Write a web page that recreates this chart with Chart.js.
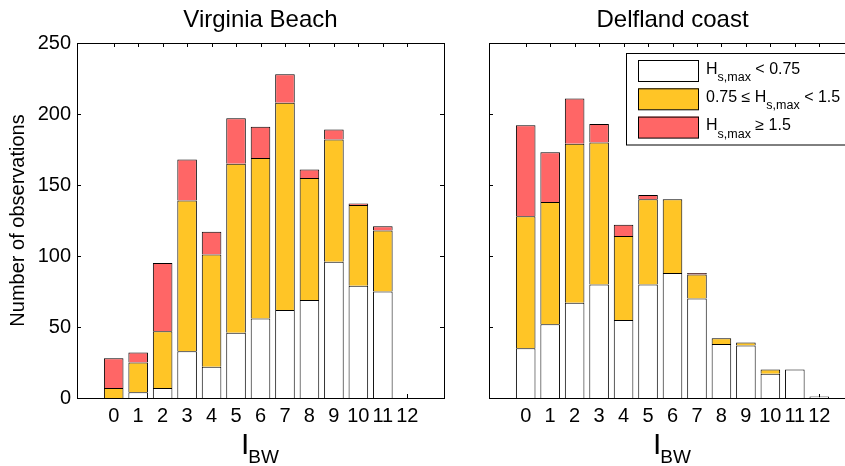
<!DOCTYPE html>
<html>
<head>
<meta charset="utf-8">
<script src="https://cdn.jsdelivr.net/npm/chart.js@4.4.1/dist/chart.umd.min.js"></script>
<style>
  html, body { margin: 0; padding: 0; background: #fff; overflow: hidden; width: 845px; height: 466px; }
  #left  { position: absolute; left: 0;     top: 0; }
  #right { position: absolute; left: 470px; top: 0; }
</style>
</head>
<body>
<canvas id="left" width="460" height="466"></canvas>
<canvas id="right" width="400" height="466"></canvas>
<script>
// Breakwater index classes (x axis) and tick labels
const indexBW = [0, 1, 2, 3, 4, 5, 6, 7, 8, 9, 10, 11, 12];
const xTickLabels = ['0', '1', '2', '3', '4', '5', '6', '7', '8', '9', '10', '11', '12'];
const yTickValues = [0, 50, 100, 150, 200, 250];

// Virginia Beach: number of observations per wave-height class
const vbLow  = [0, 4, 7, 33, 22, 46, 56, 62, 69, 96, 79, 75, 0];
const vbMid  = [7, 21, 40, 106, 79, 119, 113, 146, 86, 86, 57, 43, 0];
const vbHigh = [21, 7, 48, 29, 16, 32, 22, 20, 6, 7, 1, 3, 0];

// Delfland coast: number of observations per wave-height class
const dcLow  = [35, 52, 67, 80, 55, 80, 88, 70, 38, 37, 17, 20, 1];
const dcMid  = [93, 86, 112, 100, 59, 60, 52, 17, 4, 2, 3, 0, 0];
const dcHigh = [64, 35, 32, 13, 8, 3, 0, 1, 0, 0, 0, 0, 0];

const FONT = '"Liberation Sans", Arial, Helvetica, sans-serif';
const WHITE = '#ffffff';
const YELLOW = '#ffc526';
const RED = '#ff6666';
const EDGE = '#000000';

Chart.defaults.color = '#000';
Chart.defaults.font.family = FONT;

function points(values) {
  return values.map((v, i) => ({ x: indexBW[i], y: v }));
}

function datasets(low, mid, high) {
  // the base edge of each segment is skipped so stacked boundaries stay one pixel wide
  const common = {
    borderColor: EDGE, borderWidth: 1, borderSkipped: 'start',
    barPercentage: 1.0, categoryPercentage: 0.8
  };
  return [
    Object.assign({ label: 'low',  data: points(low),  backgroundColor: WHITE }, common),
    Object.assign({ label: 'mid',  data: points(mid),  backgroundColor: YELLOW }, common),
    Object.assign({ label: 'high', data: points(high), backgroundColor: RED }, common)
  ];
}

// Box around the axes with inward tick marks (MATLAB style)
const framePlugin = {
  id: 'frame',
  beforeDatasetsDraw(chart) {
    const { ctx, chartArea: a, scales: { x, y } } = chart;
    const len = 4;
    ctx.save();
    ctx.strokeStyle = '#000';
    ctx.lineWidth = 1;
    ctx.beginPath();
    yTickValues.forEach(v => {
      const py = Math.round(y.getPixelForValue(v)) + 0.5;
      ctx.moveTo(a.left, py); ctx.lineTo(a.left + len, py);
      ctx.moveTo(a.right, py); ctx.lineTo(a.right - len, py);
    });
    indexBW.forEach(v => {
      const px = Math.round(x.getPixelForValue(v)) + 0.5;
      ctx.moveTo(px, a.top); ctx.lineTo(px, a.top + len);
      ctx.moveTo(px, a.bottom); ctx.lineTo(px, a.bottom - len);
    });
    ctx.stroke();
    ctx.restore();
  },
  afterDatasetsDraw(chart) {
    const { ctx, chartArea: a } = chart;
    ctx.save();
    ctx.strokeStyle = '#000';
    ctx.lineWidth = 1;
    const l = Math.round(a.left) + 0.5, t = Math.round(a.top) + 0.5;
    const r = Math.round(a.right) + 0.5, b = Math.round(a.bottom) + 0.5;
    ctx.strokeRect(l, t, r - l, b - t);
    ctx.restore();
  }
};

// x axis title "I" with subscript "BW"
const xTitlePlugin = {
  id: 'xTitle',
  afterDraw(chart) {
    const { ctx, chartArea: a } = chart;
    ctx.save();
    ctx.fillStyle = '#000';
    ctx.textBaseline = 'alphabetic';
    ctx.textAlign = 'left';
    const bigFont = '30px ' + FONT, subFont = '19px ' + FONT;
    ctx.font = bigFont;
    const wI = ctx.measureText('I').width;
    ctx.font = subFont;
    const wS = ctx.measureText('BW').width;
    const x0 = (a.left + a.right) / 2 - (wI + wS) / 2;
    ctx.font = bigFont;
    ctx.fillText('I', x0, 454);
    ctx.font = subFont;
    ctx.fillText('BW', x0 + wI - 1, 463);
    ctx.restore();
  }
};

// Legend of wave-height classes, drawn in the right panel
const legendRows = [
  { color: WHITE,  pre: '',       sub: 's,max', post: ' < 0.75' },
  { color: YELLOW, pre: '0.75 \u2264 ', sub: 's,max', post: ' < 1.5' },
  { color: RED,    pre: '',       sub: 's,max', post: ' \u2265 1.5' }
];
const legendPlugin = {
  id: 'hsLegend',
  afterDraw(chart) {
    const { ctx } = chart;
    const off = 470; // canvas offset on the page
    ctx.save();
    ctx.fillStyle = '#fff';
    ctx.strokeStyle = '#000';
    ctx.lineWidth = 1;
    ctx.fillRect(626 - off, 53.5, 230, 91.5);
    ctx.strokeRect(626.5 - off, 53.5, 230, 91.5);
    const mainFont = '16px ' + FONT, subFont = '12.5px ' + FONT;
    legendRows.forEach((row, i) => {
      const top = 60 + i * 28.3;
      ctx.fillStyle = row.color;
      ctx.fillRect(638 - off, top, 61, 21.5);
      ctx.strokeStyle = EDGE;
      ctx.strokeRect(638.5 - off, top + 0.5, 60, 21);
      const base = top + 13.5;
      let x = 706 - off;
      ctx.fillStyle = '#000';
      ctx.textBaseline = 'alphabetic';
      ctx.font = mainFont;
      ctx.fillText(row.pre + 'H', x, base);
      x += ctx.measureText(row.pre + 'H').width;
      ctx.font = subFont;
      ctx.fillText(row.sub, x, base + 7.5);
      x += ctx.measureText(row.sub).width;
      ctx.font = mainFont;
      ctx.fillText(row.post, x, base);
    });
    ctx.restore();
  }
};

function makeOptions(titleText, showY, yWidth, padRight) {
  return {
    responsive: false,
    animation: false,
    layout: { padding: { left: 0, right: padRight, top: 0, bottom: 0 } },
    plugins: {
      legend: { display: false },
      tooltip: { enabled: false },
      title: {
        display: true, text: titleText, fullSize: false,
        font: { size: 24, weight: 'normal', family: FONT },
        color: '#000', padding: { top: 6, bottom: 8.2 }
      }
    },
    scales: {
      x: {
        type: 'linear', stacked: true, min: -1, max: 13,
        grid: { display: false, drawTicks: false, tickLength: 0 },
        border: { display: false },
        ticks: {
          stepSize: 1, autoSkip: false, maxRotation: 0, minRotation: 0,
          padding: 6, font: { size: 20, family: FONT }, color: '#000',
          callback: v => (v >= 0 && v < xTickLabels.length) ? xTickLabels[v] : ''
        },
        afterFit: s => { s.height = 68; }
      },
      y: {
        stacked: true, min: 0, max: 250,
        grid: { display: false, drawTicks: false, tickLength: 0 },
        border: { display: false },
        ticks: {
          display: showY, stepSize: 50, padding: 6,
          font: { size: 20, family: FONT }, color: '#000'
        },
        title: {
          display: showY, text: 'Number of observations',
          font: { size: 20, family: FONT }, color: '#000',
          padding: { top: 6, bottom: 0 }
        },
        afterFit: s => { s.width = yWidth; }
      }
    }
  };
}

new Chart(document.getElementById('left'), {
  type: 'bar',
  data: { datasets: datasets(vbLow, vbMid, vbHigh) },
  options: makeOptions('Virginia Beach', true, 77, 16),
  plugins: [framePlugin, xTitlePlugin]
});

new Chart(document.getElementById('right'), {
  type: 'bar',
  data: { datasets: datasets(dcLow, dcMid, dcHigh) },
  options: makeOptions('Delfland coast', false, 19, 14),
  plugins: [framePlugin, xTitlePlugin, legendPlugin]
});
</script>
</body>
</html>
